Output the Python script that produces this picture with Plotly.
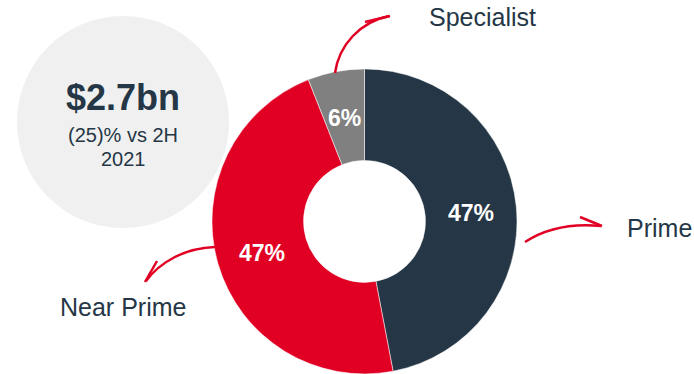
import math
import plotly.graph_objects as go

W, H = 694, 374

segments = ["Prime", "Near Prime", "Specialist"]
shares = [47, 47, 6]
colors = ["#253746", "#E10024", "#808080"]

headline = "$2.7bn"
sub1 = "(25)% vs 2H"
sub2 = "2021"

NAVY = "#253746"
RED = "#E10024"

def px(x):
    return x / W

def py(y):
    return 1 - y / H

def path(points):
    s = ""
    for cmd, pts in points:
        s += cmd + " " + " ".join(f"{px(x):.5f},{py(y):.5f}" for x, y in pts) + " "
    return s.strip()

# pie geometry (pixels)
DX0, DX1 = 212, 517
DOM_Y = [0.0, 0.816]
HOLE = 0.40
cx = (DX0 + DX1) / 2
R = (DX1 - DX0) / 2
cy = H - (DOM_Y[0] + DOM_Y[1]) / 2 * H
r_mid = R * (1 + HOLE) / 2

fig = go.Figure()

fig.add_trace(go.Pie(
    labels=segments,
    values=shares,
    sort=False,
    direction="clockwise",
    rotation=0,
    hole=HOLE,
    marker=dict(colors=colors, line=dict(color="white", width=0.5)),
    textinfo="none",
    showlegend=False,
    domain=dict(x=[px(DX0), px(DX1)], y=DOM_Y),
))

annotations = []
total = sum(shares)
cum = 0
for name, v in zip(segments, shares):
    mid = (cum + v / 2) / total * 2 * math.pi
    cum += v
    lx = cx + r_mid * math.sin(mid)
    ly = cy - r_mid * math.cos(mid) + 1.5
    annotations.append(dict(text=f"<b>{v}%</b>", x=px(lx), y=py(ly),
                            font=dict(size=23, color="white")))

shapes = []
shapes.append(dict(type="circle", xref="paper", yref="paper",
                   x0=px(17), x1=px(229), y0=py(228), y1=py(16),
                   fillcolor="#F0F0F0", line=dict(width=0), layer="below"))

arrow_style = dict(type="path", xref="paper", yref="paper",
                   line=dict(color=RED, width=2.5), layer="above")

# Specialist arrow
shapes.append(dict(arrow_style, path=path([("M", [(335, 73)]),
                                          ("C", [(339, 45), (360, 22), (389, 16)])])))
shapes.append(dict(arrow_style, path=path([("M", [(365, 22)]), ("L", [(390, 16), (377, 33)])])))

# Prime arrow
shapes.append(dict(arrow_style, path=path([("M", [(525, 242)]),
                                          ("C", [(545, 229), (570, 223), (601, 226)])])))
shapes.append(dict(arrow_style, path=path([("M", [(580, 217)]), ("L", [(602, 226), (582, 233)])])))

# Near Prime arrow
shapes.append(dict(arrow_style, path=path([("M", [(215, 247)]),
                                          ("C", [(185, 248), (160, 262), (146, 281)])])))
shapes.append(dict(arrow_style, path=path([("M", [(157, 261)]), ("L", [(145, 282), (167, 273)])])))

annotations += [
    dict(text=f"<b>{headline}</b>", x=px(123), y=py(98), font=dict(size=36, color=NAVY)),
    dict(text=sub1, x=px(123), y=py(135), font=dict(size=20, color=NAVY)),
    dict(text=sub2, x=px(123), y=py(159), font=dict(size=20, color=NAVY)),
    dict(text=segments[2], x=px(482), y=py(17), font=dict(size=25, color=NAVY)),
    dict(text=segments[0], x=px(659), y=py(228), font=dict(size=25, color=NAVY)),
    dict(text=segments[1], x=px(123), y=py(307), font=dict(size=25, color=NAVY)),
]
for a in annotations:
    a.update(xref="paper", yref="paper", showarrow=False, xanchor="center", yanchor="middle")

fig.update_layout(
    width=W, height=H,
    margin=dict(l=0, r=0, t=0, b=0),
    paper_bgcolor="white",
    plot_bgcolor="white",
    font=dict(family="Liberation Sans, Arial, sans-serif", color=NAVY),
    shapes=shapes,
    annotations=annotations,
)

fig.write_html("out.html")
